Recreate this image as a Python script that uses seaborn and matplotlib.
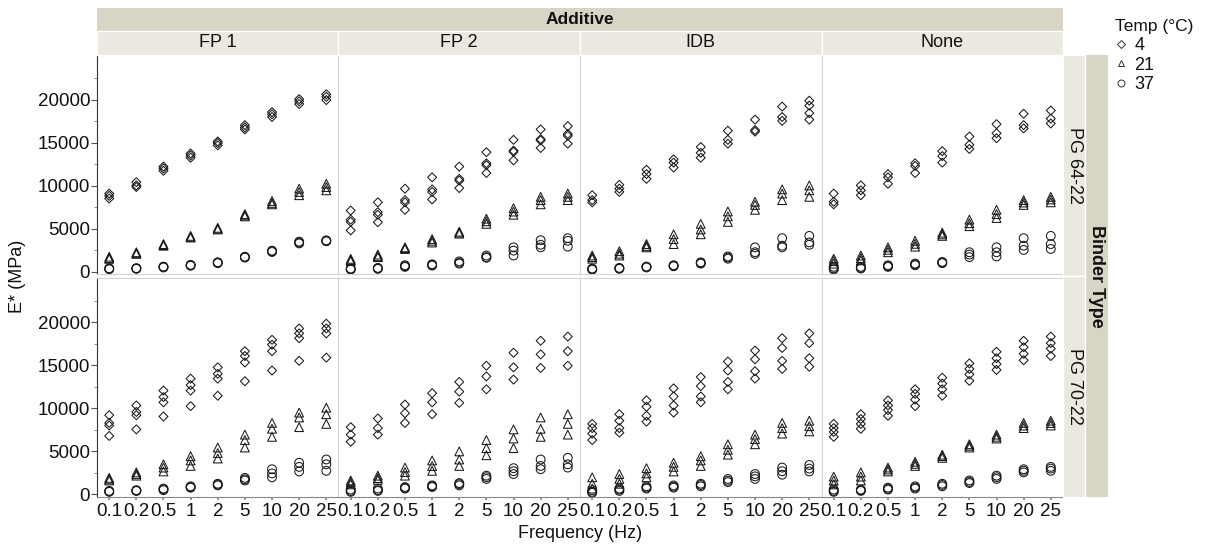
import pandas as pd
import matplotlib
matplotlib.use("Agg")
import matplotlib.pyplot as plt
from matplotlib.patches import Rectangle
from matplotlib.lines import Line2D
from matplotlib.markers import MarkerStyle
from matplotlib.transforms import Affine2D
from matplotlib.ticker import FixedLocator
import seaborn as sns

# ---------------------------------------------------------------------------
# Dynamic modulus |E*| (MPa), replicate specimens at each loading frequency
# ---------------------------------------------------------------------------
frequencies = ["0.1", "0.2", "0.5", "1", "2", "5", "10", "20", "25"]
additives = ["FP 1", "FP 2", "IDB", "None"]
binders = ["PG 64-22", "PG 70-22"]
temps = [4, 21, 37]

# PG 64-22 ------------------------------------------------------------------
fp1_pg64_4 = [[9090, 8830, 8520], [10420, 10040, 9850], [12235, 12010, 11740],
              [13750, 13520, 13260], [15150, 14960, 14700], [17045, 16780, 16550],
              [18560, 18300, 17990], [20075, 19810, 19500], [20640, 20340, 19960]]
fp1_pg64_21 = [[1750, 1600, 1500], [2270, 2080, 2150], [3220, 3030, 3100],
               [4170, 3980, 4050], [5110, 4920, 5000], [6700, 6440, 6550],
               [8220, 7840, 8000], [9660, 9280, 8900], [10230, 9850, 9470]]
fp1_pg64_37 = [[400, 300, 350], [380, 420, 350], [570, 600, 500],
               [760, 800, 700], [1060, 1100, 1000], [1700, 1750, 1650],
               [2390, 2450, 2300], [3400, 3500, 3300], [3600, 3650, 3550]]

fp2_pg64_4 = [[7120, 6060, 5800, 4810], [8070, 6930, 6630, 5760], [9660, 8330, 8070, 7200],
              [10980, 9580, 9280, 8410], [12230, 10800, 10600, 9730], [13900, 12610, 12390, 11480],
              [15340, 14090, 13940, 12950], [16550, 15420, 15270, 14390], [16930, 16020, 15800, 14890]]
fp2_pg64_21 = [[1500, 1350, 1250], [2000, 1700, 1800], [2840, 2650, 2750],
               [3790, 3400, 3600], [4660, 4430, 4550], [6170, 5870, 5570],
               [7390, 7000, 6630], [8710, 8330, 7840], [9090, 8710, 8330]]
fp2_pg64_37 = [[380, 265, 300], [450, 340, 400], [760, 570, 650],
               [870, 720, 800], [1210, 950, 1050], [1890, 1630, 1700],
               [2840, 2460, 1890], [3670, 3140, 2840], [3900, 3600, 2920]]

idb_pg64_4 = [[8900, 8330, 8070], [10110, 9660, 9280], [11860, 11360, 10800],
              [13070, 12690, 12120], [14510, 13830, 13260], [16400, 15340, 14890],
              [17690, 16480, 16290], [19200, 17990, 17540], [19890, 19320, 18450, 17690]]
idb_pg64_21 = [[1890, 1520, 1700], [2390, 1890, 2100], [3220, 2840, 3000],
               [4360, 3790, 3220], [5570, 4920, 4360], [7010, 6440, 5800],
               [8140, 7770, 7200], [9580, 9090, 8330], [10040, 9470, 8710]]
idb_pg64_37 = [[380, 300, 250], [450, 400, 350], [570, 500, 600],
               [760, 640, 700], [1020, 1100, 950], [1780, 1520, 1650],
               [2840, 2270, 2080], [3900, 3030, 2840], [4170, 3410, 3140]]

none_pg64_4 = [[9090, 8140, 7840], [10040, 9470, 8900], [11360, 10980, 10230],
               [12610, 12310, 11480], [14020, 13450, 12690], [15720, 14770, 14280],
               [17160, 16100, 15530], [18370, 17050, 16670], [18750, 17800, 17240]]
none_pg64_21 = [[1520, 1250, 950], [1890, 1600, 1330], [2840, 2550, 2270],
                [3600, 3250, 2920], [4550, 4350, 4170], [6060, 5650, 5300],
                [7200, 6700, 6250], [8330, 8050, 7770], [8710, 8400, 8070]]
none_pg64_37 = [[570, 270, 400], [570, 380, 450], [760, 570, 650],
                [950, 760, 850], [1140, 1100, 1000], [2270, 1700, 2000],
                [2840, 2270, 1780], [3900, 3030, 2540], [4170, 3220, 2650]]

# PG 70-22 ------------------------------------------------------------------
fp1_pg70_4 = [[9210, 8310, 8010, 6800], [10340, 9590, 9210, 7560], [12070, 11320, 10710, 9060],
              [13460, 12710, 12070, 10260], [14770, 14020, 13460, 11470], [16650, 16090, 15340, 13160],
              [17970, 17410, 16650, 14400], [19290, 18720, 18160, 15530], [19850, 19290, 18720, 15900]]
fp1_pg70_21 = [[1920, 1620, 1750], [2560, 2180, 2350], [3500, 3120, 2670],
               [4440, 3950, 3310], [5450, 4810, 4170], [6950, 6320, 5450],
               [8310, 7630, 6690], [9510, 8950, 7820], [10080, 9320, 8200]]
fp1_pg70_37 = [[410, 350, 300], [490, 400, 450], [680, 600, 500],
               [940, 850, 780], [1240, 1150, 1050], [1920, 1620, 1750],
               [2930, 2440, 1990], [3680, 3200, 2670], [4060, 3500, 2740]]

fp2_pg70_4 = [[7820, 6950, 6130], [8830, 7710, 6950], [10450, 9440, 8310],
              [11770, 10710, 9320], [13080, 11950, 10640], [14960, 13720, 12220],
              [16470, 14770, 13350], [17860, 16280, 14700], [18350, 16650, 14960]]
fp2_pg70_21 = [[1620, 1170, 1400], [2180, 1690, 1900], [3120, 2180, 2600],
               [3950, 2740, 3300], [5000, 4060, 3310], [6320, 5380, 4550],
               [7560, 6500, 5380], [8950, 7630, 6690], [9320, 8200, 6950]]
fp2_pg70_37 = [[560, 300, 400], [680, 410, 500], [860, 680, 750],
               [1050, 860, 950], [1320, 1050, 1200], [2180, 1800, 2000],
               [3050, 2370, 2700], [4060, 3310, 2930], [4250, 3500, 3120]]

idb_pg70_4 = [[8200, 7710, 7070, 6320], [9320, 8570, 7710, 7180], [10940, 10190, 9140, 8460],
              [12330, 11390, 10340, 9510], [13650, 12590, 11390, 10710], [15450, 14400, 13080, 12220],
              [16730, 15710, 14320, 13460], [18160, 17030, 15530, 14590], [18720, 17590, 15830, 14850]]
idb_pg70_21 = [[1990, 1240, 680], [2370, 1800, 1240], [3050, 2440, 1990],
               [3680, 3200, 2670], [4440, 3950, 3310], [5830, 5190, 4620],
               [6950, 6430, 5830], [8310, 7710, 7070], [8570, 7930, 7330]]
idb_pg70_37 = [[490, 190, 300], [680, 410, 550], [940, 680, 800],
               [1050, 790, 900], [1240, 940, 1100], [1800, 1430, 1600],
               [2370, 1800, 2100], [3120, 2290, 2700], [3420, 2670, 3000]]

none_pg70_4 = [[8200, 7710, 7260, 6690], [9320, 8760, 8200, 7630], [10940, 10340, 9810, 9140],
               [12220, 11690, 11020, 10260], [13570, 12890, 12220, 11470], [15230, 14590, 13950, 13200],
               [16580, 15830, 15150, 14470], [17860, 17110, 16350, 15600], [18350, 17590, 16950, 16090]]
none_pg70_21 = [[2070, 1620, 1170], [2560, 2070, 1620], [3120, 2670, 2900],
                [3800, 3310, 3550], [4620, 4250, 4450], [5830, 5450, 5650],
                [6950, 6500, 6700], [8310, 7710, 8000], [8570, 8010, 8300]]
none_pg70_37 = [[560, 300, 400], [560, 410, 480], [790, 560, 650],
                [940, 680, 800], [1240, 940, 1100], [1620, 1320, 1450],
                [2180, 1800, 2000], [2930, 2560, 2750], [3200, 2740, 3000]]

series = {
    ("PG 64-22", "FP 1"): (fp1_pg64_4, fp1_pg64_21, fp1_pg64_37),
    ("PG 64-22", "FP 2"): (fp2_pg64_4, fp2_pg64_21, fp2_pg64_37),
    ("PG 64-22", "IDB"): (idb_pg64_4, idb_pg64_21, idb_pg64_37),
    ("PG 64-22", "None"): (none_pg64_4, none_pg64_21, none_pg64_37),
    ("PG 70-22", "FP 1"): (fp1_pg70_4, fp1_pg70_21, fp1_pg70_37),
    ("PG 70-22", "FP 2"): (fp2_pg70_4, fp2_pg70_21, fp2_pg70_37),
    ("PG 70-22", "IDB"): (idb_pg70_4, idb_pg70_21, idb_pg70_37),
    ("PG 70-22", "None"): (none_pg70_4, none_pg70_21, none_pg70_37),
}

rows = []
for (binder, additive), per_temp in series.items():
    for temp, values in zip(temps, per_temp):
        for freq, reps in zip(frequencies, values):
            for v in reps:
                rows.append({"Binder Type": binder, "Additive": additive,
                             "Temp": temp, "Frequency": freq, "E": v})
df = pd.DataFrame(rows)
df["Frequency"] = pd.Categorical(df["Frequency"], categories=frequencies, ordered=True)
df = df.sort_values("Frequency").reset_index(drop=True)
df["Frequency"] = df["Frequency"].astype(str)

# ---------------------------------------------------------------------------
sns.set_theme(style="white")
plt.rcParams["font.family"] = ["Liberation Sans", "DejaVu Sans"]
plt.rcParams["text.color"] = "#111111"
plt.rcParams["xtick.color"] = "#111111"
plt.rcParams["ytick.color"] = "#111111"

W, H = 1211, 546
def fx(px):
    return px / W
def fy(py):
    return 1 - py / H

g = sns.FacetGrid(df, row="Binder Type", col="Additive",
                  row_order=binders, col_order=additives,
                  sharex=True, sharey=True, despine=False, height=2.2, aspect=1.1)
g.figure.set_size_inches(W / 100, H / 100)
g.figure.set_dpi(100)

# open diamond shrunk so it matches the triangle and circle footprint
diamond = MarkerStyle("D", transform=Affine2D().scale(0.72))
marker_map = {4: diamond, 21: "^", 37: "o"}
g.map_dataframe(sns.scatterplot, x="Frequency", y="E", style="Temp",
                style_order=temps, markers=marker_map, s=40,
                facecolor="none", edgecolor="#1a1a1a", linewidth=0.75)

g.figure.subplots_adjust(left=fx(97), right=fx(1063), top=fy(55), bottom=fy(497),
                         wspace=0, hspace=0.015)
g.set_titles("")

light = "#d4d4d4"
for r, binder in enumerate(binders):
    for c, additive in enumerate(additives):
        ax = g.axes[r, c]
        for coll in ax.collections:
            coll.set_facecolor("none")
        ax.set_xlim(-0.45, len(frequencies) - 0.55)
        ax.set_ylim(-300, 25200)
        ax.yaxis.set_major_locator(FixedLocator([0, 5000, 10000, 15000, 20000]))
        ax.yaxis.set_minor_locator(FixedLocator([2500, 7500, 12500, 17500, 22500]))
        ax.set_xlabel("")
        ax.set_ylabel("")
        if ax.get_legend() is not None:
            ax.get_legend().remove()
        for side in ["top", "right", "left", "bottom"]:
            ax.spines[side].set_color(light)
            ax.spines[side].set_linewidth(0.8)
        if c == 0:
            ax.spines["left"].set_color("#333333")
            ax.tick_params(axis="y", which="major", left=True, length=4, width=0.8,
                           color="#555555", labelsize=13.5, pad=1)
            ax.tick_params(axis="y", which="minor", left=True, length=2.5, width=0.6,
                           color="#777777")
        else:
            ax.tick_params(axis="y", which="both", left=False, labelleft=False)
        if r == len(binders) - 1:
            ax.spines["bottom"].set_color("#888888")
            ax.tick_params(axis="x", bottom=True, length=2, color="#888888",
                           labelsize=13.5, pad=2)
        else:
            ax.tick_params(axis="x", bottom=False, labelbottom=False)

fig = g.figure

# Facet strips ---------------------------------------------------------------
outer_c = "#d8d5c6"
inner_c = "#ebe9df"
fig.add_artist(Rectangle((fx(97), fy(31)), fx(1063) - fx(97), fy(8) - fy(31),
                         transform=fig.transFigure, facecolor=outer_c, edgecolor="none"))
fig.text((fx(97) + fx(1063)) / 2, fy(19.5), "Additive", ha="center", va="center",
         fontsize=12.5, fontweight="bold")
col_w = (1063 - 97) / len(additives)
for c, additive in enumerate(additives):
    x0 = 97 + c * col_w
    fig.add_artist(Rectangle((fx(x0), fy(55)), fx(col_w), fy(31) - fy(55),
                             transform=fig.transFigure, facecolor=inner_c,
                             edgecolor="white", linewidth=1.0))
    fig.text(fx(x0 + col_w / 2), fy(43), additive, ha="center", va="center", fontsize=13)

fig.add_artist(Rectangle((fx(1085), fy(497)), fx(1108) - fx(1085), fy(55) - fy(497),
                         transform=fig.transFigure, facecolor=outer_c, edgecolor="none"))
fig.text(fx(1096.5), fy(276), "Binder Type", ha="center", va="center", rotation=-90,
         fontsize=13, fontweight="bold")
row_h = (497 - 55) / len(binders)
for r, binder in enumerate(binders):
    y0 = 55 + r * row_h
    fig.add_artist(Rectangle((fx(1063), fy(y0 + row_h)), fx(1085) - fx(1063), fy(y0) - fy(y0 + row_h),
                             transform=fig.transFigure, facecolor=inner_c,
                             edgecolor="white", linewidth=1.0))
    fig.text(fx(1074), fy(y0 + row_h / 2), binder, ha="center", va="center",
             rotation=-90, fontsize=13)

# Axis titles ----------------------------------------------------------------
fig.text(fx(18), fy(276), "E* (MPa)", ha="center", va="center", rotation=90, fontsize=13)
fig.text(fx(580), fy(533), "Frequency (Hz)", ha="center", va="center", fontsize=13)

# Legend ---------------------------------------------------------------------
handles = [Line2D([], [], linestyle="none", marker=marker_map[t], markersize=5,
                  markerfacecolor="none", markeredgecolor="#333333", markeredgewidth=0.7)
           for t in temps]
leg = fig.legend(handles, [str(t) for t in temps], title="Temp (°C)",
                 loc="upper left", bbox_to_anchor=(fx(1108), fy(12)),
                 frameon=False, fontsize=13, title_fontsize=12.5,
                 handlelength=0.6, handletextpad=0.45, labelspacing=0.15,
                 borderaxespad=0, alignment="left")

fig.savefig("out.png", dpi=100)
